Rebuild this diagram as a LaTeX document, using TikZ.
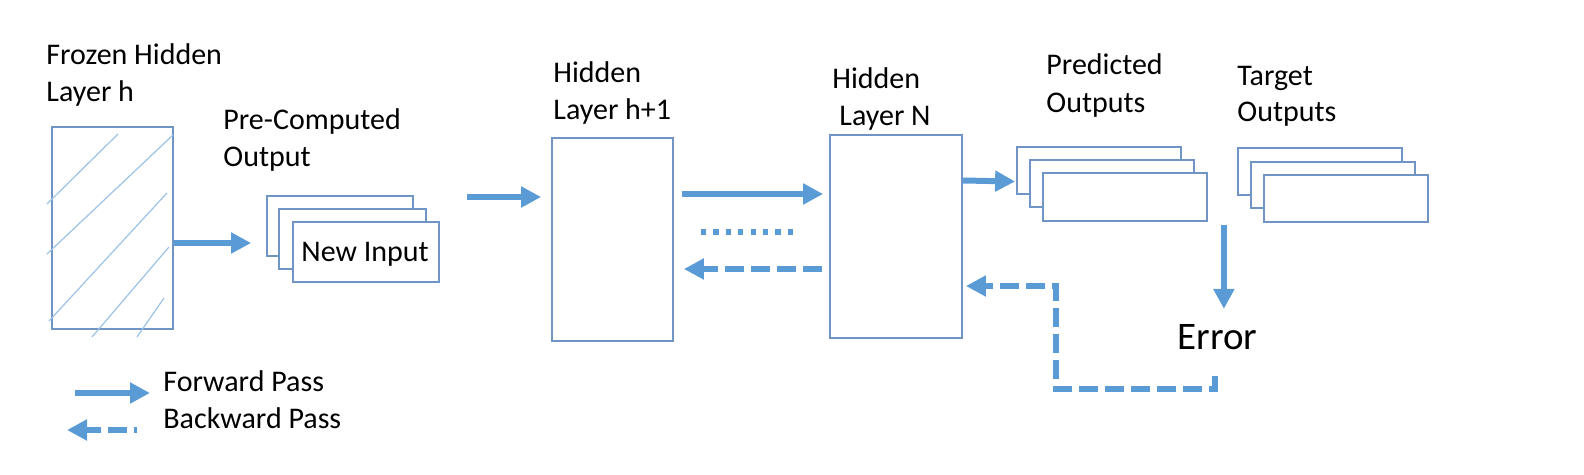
\documentclass[tikz,border=0pt]{standalone}
\usepackage{fontspec}
\setmainfont{Carlito}
\usetikzlibrary{arrows.meta,calc,fit}
\definecolor{arrblue}{HTML}{5B9BD5}
\definecolor{boxblue}{HTML}{7094C4}
\definecolor{hatchblue}{HTML}{9DC3E6}
\tikzset{
  box/.style={draw=boxblue, line width=0.9pt, fill=white, inner sep=0pt, rectangle},
  lbl/.style={anchor=base west, inner sep=0pt, font=\fontsize{15}{18}\selectfont},
  fwd/.style={draw=arrblue, line width=3pt, -{Triangle[length=10pt,width=10pt]}},
  bwd/.style={draw=arrblue, line width=3pt, dash pattern=on 9.5pt off 3.5pt, -{Triangle[length=10pt,width=10pt]}},
  dotline/.style={draw=arrblue, line width=3pt, dash pattern=on 2.6pt off 3.6pt},
  hatch/.style={draw=hatchblue, line width=0.6pt}
}
\begin{document}
\begin{tikzpicture}[x=0.5pt,y=-0.5pt]
\useasboundingbox (0,0) rectangle (1584,475);
% Frozen hidden layer
\node[box, fit={(52,127) (173,329)}] (frozen) {};
\draw[hatch] (47,204) -- (118,134);
\draw[hatch] (47,254) -- (173,135);
\draw[hatch] (49,321) -- (167,193);
\draw[hatch] (92,337) -- (169,247);
\draw[hatch] (137,337) -- (164,298);
\node[lbl] (tfrozen1) at (46,65) {Frozen Hidden};
\node[lbl] (tfrozen2) at (46,102) {Layer h};
% Pre-computed output stack
\node[box, fit={(267,196) (413,256)}] (niA) {};
\node[box, fit={(279,209) (426,269)}] (niB) {};
\node[box, fit={(293,222) (439,282)}] (niC) {};
\node[lbl] (tni) at (301,262) {New Input};
\node[lbl] (tpre1) at (223,130) {Pre-Computed};
\node[lbl] (tpre2) at (223,167) {Output};
% Hidden h+1
\node[box, fit={(552,138) (673,341)}] (h1) {};
\node[lbl] (th1a) at (553,83) {Hidden};
\node[lbl] (th1b) at (553,120) {Layer h+1};
% Hidden N
\node[box, fit={(830,135) (962,338)}] (hN) {};
\node[lbl] (thNa) at (832,89) {Hidden};
\node[lbl] (thNb) at (839,126) {Layer N};
% Predicted outputs
\node[box, fit={(1017,147) (1181,194)}] (pA) {};
\node[box, fit={(1030,160) (1194,207)}] (pB) {};
\node[box, fit={(1043,173) (1207,221)}] (pC) {};
\node[lbl] (tpa) at (1046,75) {Predicted};
\node[lbl] (tpb) at (1046,113) {Outputs};
% Target outputs
\node[box, fit={(1238,148) (1402,195)}] (tA) {};
\node[box, fit={(1251,162) (1415,208)}] (tB) {};
\node[box, fit={(1264,175) (1428,222)}] (tC) {};
\node[lbl] (tta) at (1237,86) {Target};
\node[lbl] (ttb) at (1237,122) {Outputs};
% Error
\node[anchor=base west, inner sep=0pt, font=\fontsize{19.5}{23}\selectfont] (err) at (1177,350) {Error};
% Connectors
\draw[fwd] ($(frozen.east)+(0,15)$) -- ($(niA.west)+(-15,17)$);
\draw[fwd] ($(h1.west)+(-84,-42.5)$) -- ($(h1.west)+(-10,-42.5)$);
\draw[fwd] ($(h1.east)+(8,-45.5)$) -- ($(hN.west)+(-6,-42.5)$);
\draw[dotline] ($(h1.east)+(27,-7.5)$) -- ($(hN.west)+(-32,-4.5)$);
\draw[bwd] ($(hN.west)+(-7,32.5)$) -- ($(h1.east)+(10,29.5)$);
\draw[fwd] ($(hN.east)+(0,-56)$) -- ($(pA.west)+(-1,11)$);
\draw[fwd] ($(pC.south east)+(16,3)$) -- ($(pC.south east)+(16,87)$);
\coordinate (fbk) at (1056,389);
\draw[bwd] (1215,376) |- (fbk) |- ($(hN.east)+(3,49.5)$);
% Legend
\coordinate (lf1) at (75,393);
\coordinate (lf2) at (150,393);
\coordinate (lb1) at (137,430);
\coordinate (lb2) at (67,430);
\draw[fwd] (lf1) -- (lf2);
\draw[bwd, dash phase=8pt] (lb1) -- (lb2);
\node[lbl] (tfwd) at (163,392) {Forward Pass};
\node[lbl] (tbwd) at (163,429) {Backward Pass};
\end{tikzpicture}
\end{document}
